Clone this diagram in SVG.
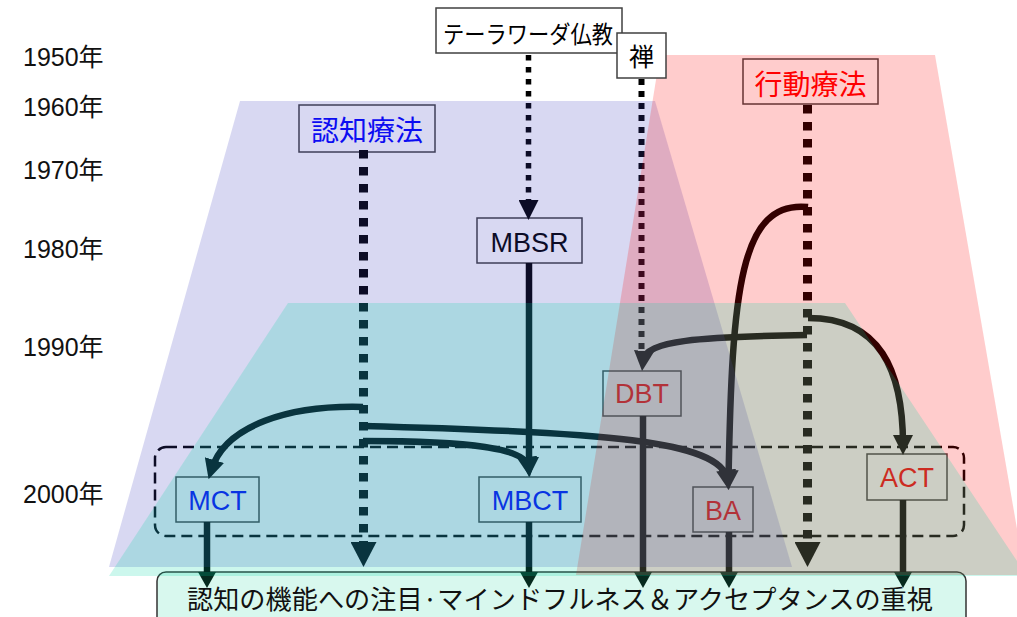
<svg xmlns="http://www.w3.org/2000/svg" width="1017" height="617" viewBox="0 0 1017 617">
<defs>
<style>
.yr{font-family:"Liberation Sans","Noto Sans CJK JP",sans-serif;font-size:25px;fill:#111}
.jp{font-family:"Noto Sans CJK JP",sans-serif}
.lat{font-family:"Liberation Sans",Arial,sans-serif;font-size:27px;text-anchor:middle}
.box{fill:#fff;stroke:#404040;stroke-width:1.5}
.solid{fill:none;stroke:#000;stroke-width:6.5}
.dotA{fill:none;stroke:#000;stroke-width:9;stroke-dasharray:8.5 8.5}
.dotB{fill:none;stroke:#000;stroke-width:6;stroke-dasharray:6 6}
.dotC{fill:none;stroke:#000;stroke-width:5.5;stroke-dasharray:5.5 6.5}
.layer{stroke:none;fill-opacity:0.2}
</style>
<marker id="ah" markerUnits="userSpaceOnUse" viewBox="0 0 20 20" refX="10" refY="10" markerWidth="20" markerHeight="20" orient="auto"><path d="M0,0 L20,10 L0,20 z" fill="#000"/></marker>
<marker id="ahBig" markerUnits="userSpaceOnUse" viewBox="0 0 25 26" refX="12" refY="13" markerWidth="25" markerHeight="26" orient="auto"><path d="M0,0 L25,13 L0,26 z" fill="#000"/></marker>
<marker id="ahBar" markerUnits="userSpaceOnUse" viewBox="0 0 16 18" refX="6" refY="9" markerWidth="16" markerHeight="18" orient="auto"><path d="M0,0 L16,9 L0,18 z" fill="#062a1e"/></marker>
</defs>
<rect width="1017" height="617" fill="#fff"/>

<g id="n-bar">
<rect x="157" y="572" width="809" height="60" rx="9" fill="#d8f8ee" stroke="#333" stroke-width="1.5"/>
</g>

<g id="group-2000s">
<rect x="155" y="447" width="809" height="89" rx="11" fill="none" stroke="#000" stroke-width="2.5" stroke-dasharray="11 6"/>
</g>

<g id="n-ct"><rect class="box" x="299" y="105" width="136" height="47"/><text class="jp" x="367" y="141" font-size="28" text-anchor="middle" fill="#0000ff">認知療法</text></g>
<g id="n-bt"><rect class="box" x="743" y="59" width="135" height="45"/><text class="jp" x="810.5" y="95" font-size="28" text-anchor="middle" fill="#ff0000">行動療法</text></g>
<g id="n-mbsr"><rect class="box" x="477" y="218" width="105" height="45"/><text class="lat" x="529.5" y="252" fill="#000">MBSR</text></g>
<g id="n-dbt"><rect class="box" x="603" y="371" width="78" height="45"/><text class="lat" x="642" y="403" fill="#ff0000">DBT</text></g>
<g id="n-mct"><rect class="box" x="176" y="477" width="83" height="45"/><text class="lat" x="217.5" y="510" fill="#0000ff">MCT</text></g>
<g id="n-mbct"><rect class="box" x="479" y="477" width="102" height="45"/><text class="lat" x="530" y="510" fill="#0000ff">MBCT</text></g>
<g id="n-ba"><rect class="box" x="693" y="487" width="60" height="45"/><text class="lat" x="723" y="520" fill="#ff0000">BA</text></g>
<g id="n-act"><rect class="box" x="867" y="454" width="80" height="46"/><text class="lat" x="907" y="487" fill="#ff0000">ACT</text></g>

<g id="connectors">
<path class="dotC" d="M528.5 55 V210" marker-end="url(#ah)"/>
<path class="dotB" d="M641.5 79 V356"/>
<path class="dotA" d="M363.5 150 V554" marker-end="url(#ahBig)"/>
<path class="dotA" d="M807.5 105 V554" marker-end="url(#ahBig)"/>
<path class="solid" d="M529 263 V467" marker-end="url(#ah)"/>
<path class="solid" d="M363 407 C290 405 225 425 211.5 469.6" marker-end="url(#ah)"/>
<path class="solid" d="M363 441 C470 441 526 448 528.5 467" marker-end="url(#ah)"/>
<path class="solid" d="M363 426 C600 432 722 440 727.5 480" marker-end="url(#ah)"/>
<path class="solid" d="M808 207 C740 200 732 290 728.5 480" marker-end="url(#ah)"/>
<path class="solid" d="M807 335 C700 337 645 340 643 361" marker-end="url(#ah)"/>
<path class="solid" d="M808 318 C880 318 903 370 903 445" marker-end="url(#ah)"/>
<path class="solid" d="M207 522 V578" marker-end="url(#ahBar)"/>
<path class="solid" d="M529 522 V578" marker-end="url(#ahBar)"/>
<path class="solid" d="M643 416 V578" marker-end="url(#ahBar)"/>
<path class="solid" d="M729 532 V578" marker-end="url(#ahBar)"/>
<path class="solid" d="M903 500 V578" marker-end="url(#ahBar)"/>
</g>

<g id="eras">
<polygon class="layer" fill="#3c3cbe" points="240,101 655,101 792,567 109,567"/>
<polygon class="layer" fill="#ff0000" points="660,55 935,55 1025,575 576,575"/>
<polygon class="layer" fill="#00d7a5" points="288,303 845,303 1027,576 109,576"/>
</g>

<g id="n-theravada"><rect class="box" x="436" y="8" width="186" height="45"/><text class="jp" x="443" y="43" font-size="24" textLength="170" lengthAdjust="spacingAndGlyphs" fill="#000">テーラワーダ仏教</text></g>
<g id="n-zen"><rect class="box" x="617" y="33" width="49" height="45"/><text class="jp" x="641.5" y="66" font-size="25" text-anchor="middle" fill="#000">禅</text></g>

<g id="bar-label"><text class="jp" x="187" y="609" font-size="26" textLength="746" lengthAdjust="spacingAndGlyphs" fill="#111">認知の機能への注目·マインドフルネス＆アクセプタンスの重視</text></g>

<g id="years">
<text class="yr" x="23" y="66">1950年</text>
<text class="yr" x="23" y="116">1960年</text>
<text class="yr" x="23" y="179">1970年</text>
<text class="yr" x="23" y="258">1980年</text>
<text class="yr" x="23" y="356">1990年</text>
<text class="yr" x="23" y="503">2000年</text>
</g>
</svg>
